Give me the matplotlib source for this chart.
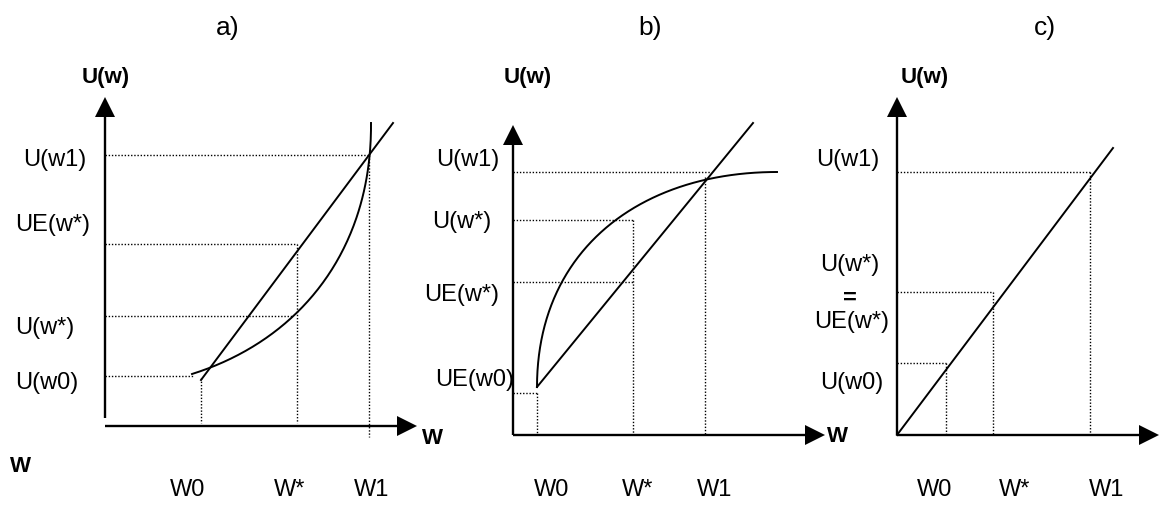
import numpy as np
import matplotlib
matplotlib.use("Agg")
import matplotlib.pyplot as plt

plt.rcParams['font.family'] = ['Liberation Sans', 'DejaVu Sans']

# figure is drawn in pixel coordinates (y grows downwards)
W, H = 1159, 507

titles = ["a)", "b)", "c)"]
title_pos = [(228, 28), (650, 28), (1045, 28)]

x_labels = ["W0", "W*", "W1"]
x_label_pos = [[188, 290, 372], [552, 638, 715], [935, 1015, 1107]]
x_label_row = 490

y_labels_a = ["U(w1)", "UE(w*)", "U(w*)", "U(w0)"]
y_pos_a = [(55, 160), (53, 225), (45, 328), (47, 383)]
y_labels_b = ["U(w1)", "U(w*)", "UE(w*)", "UE(w0)"]
y_pos_b = [(468, 160), (462, 222), (462, 295), (475, 380)]
y_labels_c = ["U(w1)", "U(w*)", "=", "UE(w*)", "U(w0)"]
y_pos_c = [(848, 160), (850, 265), (850, 298), (852, 322), (852, 383)]

# axes: (x of vertical axis, bottom of vertical axis, tip of vertical axis,
#        y of horizontal axis, start of horizontal axis, tip of horizontal axis)
axes_a = (105, 418, 97, 426, 105, 417)
axes_b = (513, 435, 125, 435, 513, 825)
axes_c = (897, 435, 97, 435, 897, 1159)
uw_pos = [(106, 77), (528, 77), (925, 77)]
w_pos = [(20, 467), (432, 438), (837, 437)]

# straight lines (expected utility / linear utility)
line_a = ([201, 393], [380, 123])
line_b = ([537, 753], [387, 123])
line_c = ([897, 1113], [435, 148])

# utility curves as cubic bezier control points
curve_a = [(192, 374), (300, 340), (372, 250), (371, 123)]
curve_b = [(537, 387), (537, 250), (640, 172), (777, 172)]

# dotted guides: horizontal (y, x_start, x_end), vertical (x, y_top, y_bottom)
hdots_a = [(155, 105, 368), (244, 105, 297), (316, 105, 293), (376, 105, 193)]
vdots_a = [(201, 378, 423), (297, 244, 423), (369, 155, 437)]
hdots_b = [(172, 513, 710), (220, 513, 633), (282, 513, 633), (393, 513, 537)]
vdots_b = [(537, 393, 435), (633, 220, 435), (705, 177, 435)]
hdots_c = [(172, 897, 1090), (292, 897, 993), (363, 897, 946)]
vdots_c = [(946, 363, 435), (993, 292, 435), (1090, 172, 435)]


def bezier(pts, n=200):
    t = np.linspace(0, 1, n)[:, None]
    p = np.array(pts, dtype=float)
    b = ((1 - t) ** 3 * p[0] + 3 * (1 - t) ** 2 * t * p[1]
         + 3 * (1 - t) * t ** 2 * p[2] + t ** 3 * p[3])
    return b[:, 0], b[:, 1]


def arrowhead(ax, tip, direction, length=20, width=20):
    tx, ty = tip
    if direction == "up":
        xs = [tx, tx - width / 2, tx + width / 2]
        ys = [ty, ty + length, ty + length]
    else:
        xs = [tx, tx - length, tx - length]
        ys = [ty, ty - width / 2, ty + width / 2]
    ax.fill(xs, ys, color="black", lw=0)


def draw_axes(ax, spec):
    vx, vbot, vtip, hy, hstart, htip = spec
    ax.plot([vx, vx], [vbot, vtip + 15], color="black", lw=1.7, solid_capstyle="butt")
    ax.plot([hstart, htip - 15], [hy, hy], color="black", lw=1.7, solid_capstyle="butt")
    arrowhead(ax, (vx, vtip), "up")
    arrowhead(ax, (htip, hy), "right")


def draw_dots(ax, hd, vd):
    for y, x0, x1 in hd:
        ax.plot([x0, x1], [y, y], color="black", lw=1.0, ls=(0, (1, 1.3)))
    for x, y0, y1 in vd:
        ax.plot([x, x], [y0, y1], color="black", lw=1.0, ls=(0, (1, 1.3)))


fig = plt.figure(figsize=(W / 100, H / 100), dpi=100)
ax = fig.add_axes([0, 0, 1, 1])
ax.set_xlim(0, W)
ax.set_ylim(H, 0)
ax.axis("off")

fs = 17

for spec in [axes_a, axes_b, axes_c]:
    draw_axes(ax, spec)

draw_dots(ax, hdots_a, vdots_a)
draw_dots(ax, hdots_b, vdots_b)
draw_dots(ax, hdots_c, vdots_c)

for ln in [line_a, line_b, line_c]:
    ax.plot(ln[0], ln[1], color="black", lw=1.4)

for cv in [curve_a, curve_b]:
    cx, cy = bezier(cv)
    ax.plot(cx, cy, color="black", lw=1.4)

for t, (x, y) in zip(titles, title_pos):
    ax.text(x, y, t, fontsize=fs + 2, ha="center", va="center")

for (x, y) in uw_pos:
    ax.text(x, y, "U(w)", fontsize=fs - 1, fontweight="bold", ha="center", va="center")
for (x, y) in w_pos:
    ax.text(x, y, "W", fontsize=fs - 1, fontweight="bold", ha="center", va="center")

for xs in x_label_pos:
    for lab, x in zip(x_labels, xs):
        ax.text(x, x_label_row, lab, fontsize=fs, ha="center", va="center")

for labs, pos in [(y_labels_a, y_pos_a), (y_labels_b, y_pos_b), (y_labels_c, y_pos_c)]:
    for lab, (x, y) in zip(labs, pos):
        weight = "bold" if lab == "=" else "normal"
        ax.text(x, y, lab, fontsize=fs, fontweight=weight, ha="center", va="center")

fig.savefig("out.png", dpi=100)
